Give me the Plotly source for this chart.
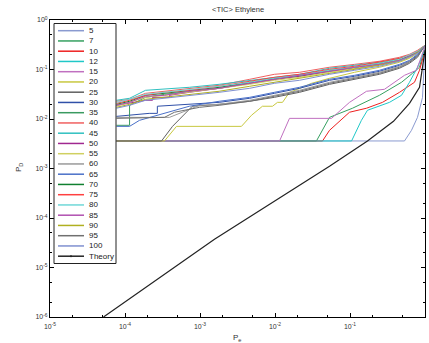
import plotly.graph_objects as go

# ---------------- data ----------------
SERIES_NAMES = ["5", "7", "10", "12", "15", "20", "25", "30", "35", "40", "45",
                "50", "55", "60", "65", "70", "75", "80", "85", "90", "95", "100"]

# shared false-alarm grid for the upper bundle of curves
PF_GRID = [7.7e-5, 1.15e-4, 1.88e-4, 3.36e-4, 7.2e-4, 1.8e-3, 4.6e-3, 9.8e-3,
           0.0212, 0.0533, 0.115, 0.247, 0.457, 0.621, 0.794, 1.0]

PD_40 = [0.0228, 0.025, 0.033, 0.0363, 0.0417, 0.048, 0.0634, 0.08, 0.0878, 0.111, 0.127, 0.1466, 0.1763, 0.2028, 0.244, 0.308]
PD_45 = [0.0239, 0.0262, 0.038, 0.0398, 0.0437, 0.0502, 0.0605, 0.0696, 0.08, 0.106, 0.1216, 0.14, 0.168, 0.194, 0.233, 0.308]
PD_55 = [0.0181, 0.0217, 0.0274, 0.0301, 0.0346, 0.0417, 0.0502, 0.0605, 0.0696, 0.0878, 0.106, 0.127, 0.153, 0.185, 0.2225, 0.308]
PD_70 = [0.0198, 0.0228, 0.0301, 0.033, 0.038, 0.0437, 0.0551, 0.0664, 0.0764, 0.0964, 0.111, 0.1334, 0.1607, 0.185, 0.2225, 0.308]
PD_75 = [0.0207, 0.0239, 0.0301, 0.0346, 0.038, 0.0458, 0.0578, 0.0696, 0.08, 0.101, 0.116, 0.14, 0.168, 0.194, 0.233, 0.308]
PD_80 = [0.0217, 0.025, 0.0315, 0.0346, 0.0398, 0.0458, 0.0551, 0.0664, 0.0764, 0.0964, 0.111, 0.1334, 0.1607, 0.194, 0.233, 0.308]
PD_85 = [0.0189, 0.0217, 0.0288, 0.0301, 0.0363, 0.0417, 0.0526, 0.0634, 0.0764, 0.092, 0.111, 0.127, 0.153, 0.185, 0.2225, 0.308]
PD_90 = [0.0172, 0.0198, 0.025, 0.0274, 0.0315, 0.0363, 0.0458, 0.0551, 0.0664, 0.0838, 0.101, 0.1216, 0.1466, 0.1763, 0.2225, 0.308]
PD_100 = [0.0165, 0.0189, 0.0239, 0.0262, 0.0301, 0.0346, 0.0417, 0.0526, 0.0605, 0.08, 0.0964, 0.116, 0.1466, 0.1763, 0.212, 0.308]

PF_5 = [7.7e-5, 0.533, 0.66, 0.794, 0.927, 1.0]
PD_5 = [3.6e-3, 3.6e-3, 5.9e-3, 0.0108, 0.0274, 0.294]

PF_7 = [7.7e-5, 0.0357, 0.0533, 0.108, 0.247, 0.486, 0.681, 0.845, 1.0]
PD_7 = [3.6e-3, 3.6e-3, 0.0108, 0.0165, 0.0301, 0.0551, 0.0838, 0.111, 0.294]

PF_10 = [7.7e-5, 0.043, 0.0533, 0.0985, 0.166, 0.271, 0.457, 0.724, 0.845, 1.0]
PD_10 = [3.6e-3, 3.6e-3, 5.9e-3, 0.0137, 0.0165, 0.0217, 0.0346, 0.0551, 0.0964, 0.244]

PF_12 = [7.7e-5, 0.105, 0.142, 0.171, 0.336, 0.486, 0.621, 0.794, 1.0]
PD_12 = [3.6e-3, 3.6e-3, 9.4e-3, 0.015, 0.0217, 0.0301, 0.0551, 0.111, 0.244]

PF_15 = [7.7e-5, 0.0115, 0.0156, 0.0567, 0.0985, 0.166, 0.288, 0.533, 0.77, 1.0]
PD_15 = [3.6e-3, 3.6e-3, 0.0103, 0.0103, 0.0217, 0.0363, 0.0398, 0.0764, 0.0964, 0.294]

PF_20 = [7.7e-5, 3.36e-4, 4.86e-4, 3.57e-3, 4.86e-3, 6.8e-3, 9.26e-3, 0.0108, 0.0126, 0.0156,
         0.02, 0.0307, 0.0533, 0.115, 0.247, 0.457, 0.621, 0.794, 1.0]
PD_20 = [3.6e-3, 3.6e-3, 7.1e-3, 7.1e-3, 0.0119, 0.0181, 0.0181, 0.0217, 0.0217, 0.0346,
         0.0398, 0.0526, 0.0664, 0.0878, 0.111, 0.14, 0.168, 0.212, 0.308]

PF_25 = [7.7e-5, 3.07e-4, 4.3e-4, 7.9e-4, 1.8e-3, 4.6e-3, 9.8e-3, 0.0212, 0.0533, 0.115, 0.247, 0.457, 0.621, 0.794, 1.0]
PD_25 = [3.6e-3, 3.6e-3, 7.1e-3, 0.0181, 0.0198, 0.0228, 0.0274, 0.0346, 0.0502, 0.0634, 0.08, 0.106, 0.1334, 0.1763, 0.308]

PF_30 = [7.7e-5, 2.1e-4, 2.7e-4, 2.7e-4, 1.8e-3, 4.6e-3, 9.8e-3, 0.0212, 0.0533, 0.115, 0.247, 0.457, 0.621, 0.794, 1.0]
PD_30 = [0.0113, 0.013, 0.013, 0.0181, 0.0217, 0.0262, 0.033, 0.0417, 0.0605, 0.0729, 0.092, 0.1216, 0.1466, 0.194, 0.308]

PF_35 = [7.7e-5, 1.15e-4, 1.15e-4, 1.88e-4, 3.36e-4, 7.2e-4, 1.8e-3, 4.6e-3, 9.8e-3, 0.0212, 0.0533, 0.115, 0.247, 0.457, 0.621, 0.794, 1.0]
PD_35 = [7.46e-3, 7.46e-3, 0.0189, 0.0274, 0.0315, 0.0363, 0.0417, 0.0526, 0.0634, 0.0729, 0.092, 0.106, 0.127, 0.153, 0.185, 0.2225, 0.308]

PF_50 = [7.7e-5, 1.88e-4, 2.33e-4, 2.33e-4, 3.92e-4, 3.92e-4, 7.2e-4, 1.8e-3, 4.6e-3, 9.8e-3, 0.0212, 0.0533, 0.115, 0.247, 0.457, 0.621, 0.794, 1.0]
PD_50 = [0.0189, 0.0239, 0.0239, 0.0274, 0.0274, 0.0301, 0.0346, 0.0417, 0.0526, 0.0634, 0.0729, 0.092, 0.106, 0.127, 0.153, 0.185, 0.2225, 0.308]

PF_60 = [7.7e-5, 3.92e-4, 9.85e-4, 1.8e-3, 4.6e-3, 9.8e-3, 0.0212, 0.0533, 0.115, 0.247, 0.457, 0.621, 0.794, 1.0]
PD_60 = [0.0108, 0.0108, 0.0189, 0.0198, 0.0239, 0.0301, 0.038, 0.0551, 0.0696, 0.0878, 0.116, 0.1466, 0.185, 0.308]

PF_65 = [7.7e-5, 1.15e-4, 1.56e-4, 7.2e-4, 1.8e-3, 4.6e-3, 9.8e-3, 0.0212, 0.0533, 0.115, 0.247, 0.457, 0.621, 0.794, 1.0]
PD_65 = [7.1e-3, 7.1e-3, 9.4e-3, 0.0181, 0.0228, 0.0274, 0.0346, 0.0437, 0.0634, 0.0764, 0.0964, 0.127, 0.153, 0.2028, 0.308]

PF_95 = [7.7e-5, 3.36e-4, 4.57e-4, 9.85e-4, 1.8e-3, 4.6e-3, 9.8e-3, 0.0212, 0.0533, 0.115, 0.247, 0.457, 0.621, 0.794, 1.0]
PD_95 = [0.0103, 0.0108, 0.0137, 0.0172, 0.0189, 0.0228, 0.0288, 0.0363, 0.0526, 0.0664, 0.0838, 0.111, 0.14, 0.185, 0.308]

PF_THEORY = [5.17e-5, 1.56e-3, 0.0533, 0.171, 0.38, 0.621, 0.845, 1.0]
PD_THEORY = [1e-6, 3.72e-5, 1.11e-3, 3.6e-3, 8.99e-3, 0.0207, 0.0437, 0.244]

X_TICKS = [1e-5, 1e-4, 1e-3, 1e-2, 1e-1, 1]
X_TICK_TEXT = ["10<sup>-5</sup>", "10<sup>-4</sup>", "10<sup>-3</sup>", "10<sup>-2</sup>", "10<sup>-1</sup>", "10<sup>0</sup>"]
Y_TICKS = [1e-6, 1e-5, 1e-4, 1e-3, 1e-2, 1e-1, 1]
Y_TICK_TEXT = ["10<sup>-6</sup>", "10<sup>-5</sup>", "10<sup>-4</sup>", "10<sup>-3</sup>", "10<sup>-2</sup>", "10<sup>-1</sup>", "10<sup>0</sup>"]

TITLE = "&lt;TIC&gt; Ethylene"
X_LABEL = "P<sub>e</sub>"
Y_LABEL = "P<sub>D</sub>"
THEORY_NAME = "Theory"

SERIES = [
    (PF_5, PD_5), (PF_7, PD_7), (PF_10, PD_10), (PF_12, PD_12), (PF_15, PD_15),
    (PF_20, PD_20), (PF_25, PD_25), (PF_30, PD_30), (PF_35, PD_35), (PF_GRID, PD_40),
    (PF_GRID, PD_45), (PF_50, PD_50), (PF_GRID, PD_55), (PF_60, PD_60), (PF_65, PD_65),
    (PF_GRID, PD_70), (PF_GRID, PD_75), (PF_GRID, PD_80), (PF_GRID, PD_85), (PF_GRID, PD_90),
    (PF_95, PD_95), (PF_GRID, PD_100),
]

# ---------------- styles ----------------
LINE_COLORS = ["#8a9ad0", "#35a060", "#ee2020", "#20c8c8", "#c070c0", "#c8c840", "#606060",
               "#3050a8", "#3a9a60", "#f06060", "#30c0c0", "#a02890", "#d0d060", "#9a9a9a",
               "#4a70c8", "#108030", "#ff4040", "#70d8d8", "#b050b0", "#b0b020", "#707070",
               "#8090d0"]
FONT = "Liberation Sans, Arial, sans-serif"
W, H = 429, 343
ML, MR, MT, MB = 50, 4, 20, 26
PW, PH = W - ML - MR, H - MT - MB


def px(xp):
    return (xp - ML) / PW


def py(yp):
    return (H - MB - yp) / PH


fig = go.Figure()
for (pf, pd), col, name in zip(SERIES, LINE_COLORS, SERIES_NAMES):
    fig.add_trace(go.Scatter(x=pf, y=pd, mode="lines", name=name, showlegend=False,
                             line=dict(color=col, width=1)))
fig.add_trace(go.Scatter(x=PF_THEORY, y=PD_THEORY, mode="lines", name=THEORY_NAME,
                         showlegend=False, line=dict(color="#222222", width=1.2)))

axis_common = dict(type="log", showgrid=False, zeroline=False, showline=True,
                   linecolor="black", linewidth=1, mirror="allticks", ticks="inside",
                   ticklen=4, tickcolor="black", tickfont=dict(family=FONT, size=7, color="#333"),
                   minor=dict(ticks="inside", ticklen=2, tickcolor="black", showgrid=False))
fig.update_xaxes(range=[-5, 0], tickmode="array", tickvals=X_TICKS, ticktext=X_TICK_TEXT,
                 ticklabelstandoff=3, **axis_common)
fig.update_yaxes(range=[-6, 0], tickmode="array", tickvals=Y_TICKS, ticktext=Y_TICK_TEXT, **axis_common)

shapes = []
annotations = []
# custom legend box
shapes.append(dict(type="rect", xref="paper", yref="paper", x0=px(54), x1=px(116), y0=py(263.5), y1=py(23.5),
                   fillcolor="white", line=dict(color="#222", width=1), layer="above"))
labels = SERIES_NAMES + [THEORY_NAME]
colors = LINE_COLORS + ["#222222"]
for i, (lab, col) in enumerate(zip(labels, colors)):
    yc = 30.7 + i * 10.25
    shapes.append(dict(type="line", xref="paper", yref="paper", x0=px(58), x1=px(84), y0=py(yc), y1=py(yc),
                       line=dict(color=col, width=1.5), layer="above"))
    annotations.append(dict(text=lab, xref="paper", yref="paper", x=px(86.5), y=py(yc), xanchor="left",
                            yanchor="middle", showarrow=False, font=dict(family=FONT, size=8, color="#222")))
    if lab == THEORY_NAME:
        shapes.append(dict(type="circle", xref="paper", yref="paper", x0=px(70), x1=px(72), y0=py(yc + 1),
                           y1=py(yc - 1), fillcolor="#222", line=dict(color="#222", width=0), layer="above"))

annotations.append(dict(text=TITLE, xref="paper", yref="paper", x=0.5, y=py(10), xanchor="center",
                        yanchor="middle", showarrow=False, font=dict(family=FONT, size=7.5, color="#333")))
annotations.append(dict(text=X_LABEL, xref="paper", yref="paper", x=px(237), y=py(338), xanchor="center",
                        yanchor="middle", showarrow=False, font=dict(family=FONT, size=8, color="#333")))
annotations.append(dict(text=Y_LABEL, xref="paper", yref="paper", x=px(19), y=py(168), xanchor="center",
                        yanchor="middle", showarrow=False, textangle=-90,
                        font=dict(family=FONT, size=8, color="#333")))

fig.update_layout(width=W, height=H, margin=dict(l=ML, r=MR, t=MT, b=MB, pad=0),
                  paper_bgcolor="white", plot_bgcolor="white", showlegend=False,
                  shapes=shapes, annotations=annotations, font=dict(family=FONT))
fig.write_html("out.html", config={"displayModeBar": False},
               post_script="document.body.style.margin='0';document.body.style.overflow='hidden';")
